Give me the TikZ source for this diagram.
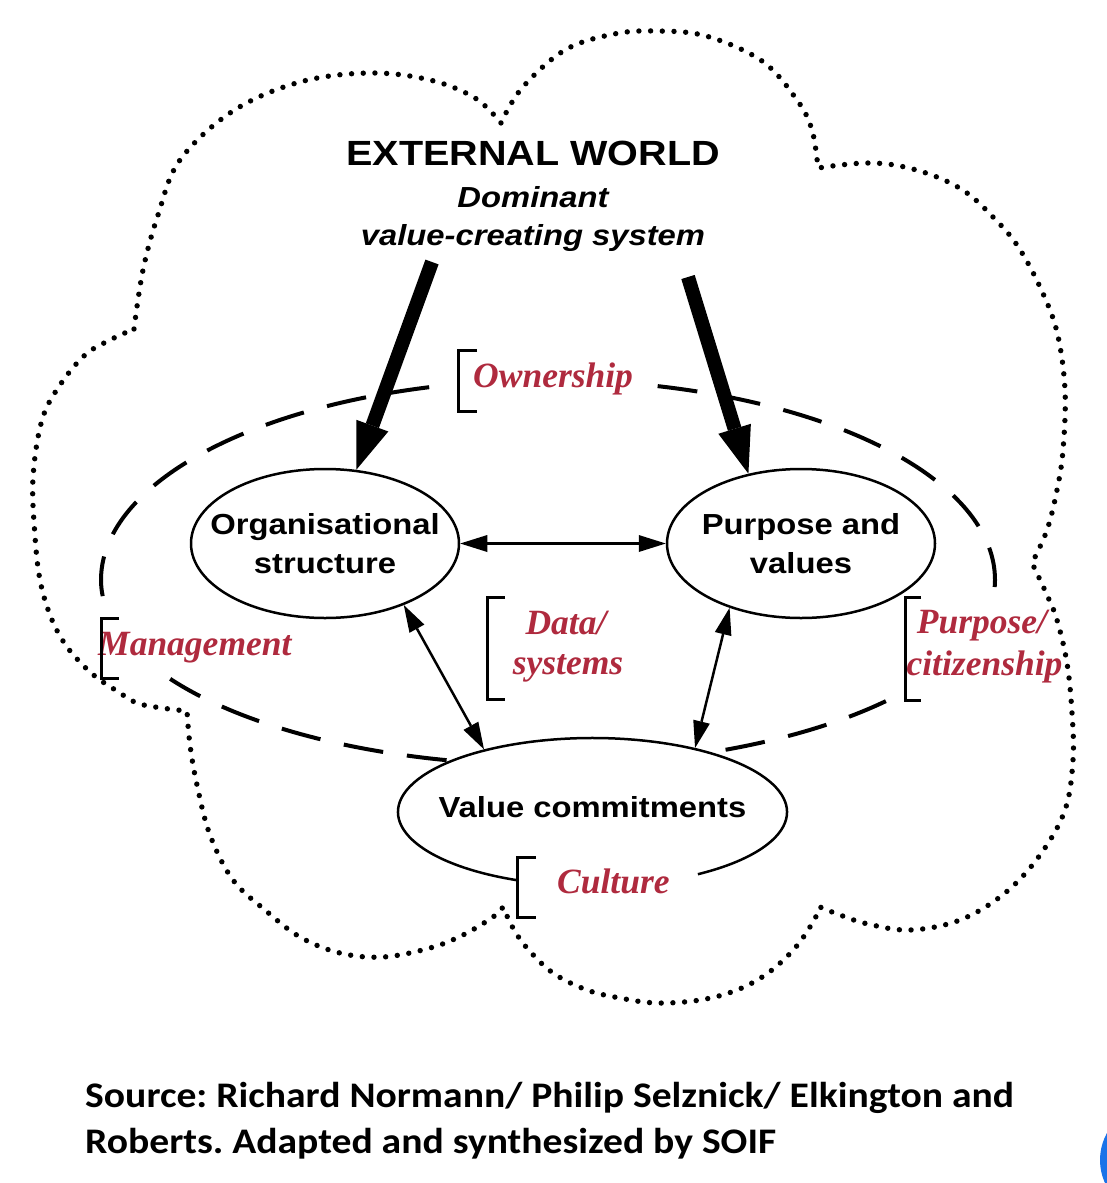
\documentclass[tikz,border=0pt]{standalone}
\usepackage{fontspec}
\usetikzlibrary{arrows.meta,shapes.geometric,calc}
\newfontfamily\nodefont[FakeStretch=1.13]{Liberation Sans}
\newfontfamily\redfont{Liberation Serif}
\newfontfamily\srcfont[FakeStretch=1.1]{Carlito}
\definecolor{labred}{RGB}{175,42,62}
\definecolor{gblue}{RGB}{26,115,232}
\begin{document}
\frenchspacing
\begin{tikzpicture}[x=1pt,y=-1pt,
  cloud/.style={line width=5.4pt, line cap=round, dash pattern=on 0pt off 11.7pt},
  outer/.style={line width=4pt, dash pattern=on 40pt off 24pt},
  ell/.style={ellipse, draw, line width=2.5pt, fill=white, inner sep=0pt, minimum width=268pt, minimum height=149pt},
  txt/.style={font=\nodefont\bfseries\fontsize{29}{39}\selectfont, align=center, inner sep=0pt},
  ttl/.style={font=\nodefont\bfseries\fontsize{35}{42}\selectfont, inner sep=0pt, anchor=base},
  sub/.style={font=\nodefont\bfseries\itshape\fontsize{29}{38}\selectfont, inner sep=0pt, anchor=base},
  bigarrow/.style={line width=14pt, -{Triangle[length=47pt,width=34pt,line width=0pt]}},
  twoway/.style={line width=2.5pt, {Triangle[length=27pt,width=17pt,line width=0pt]}-{Triangle[length=27pt,width=17pt,line width=0pt]}},
  lab/.style={text=labred, font=\redfont\bfseries\itshape\fontsize{35.5}{40}\selectfont, inner sep=0pt, anchor=base},
  brk/.style={line width=3pt},
  src/.style={font=\srcfont\bfseries\fontsize{36}{46}\selectfont, inner sep=0pt, anchor=base west}
]
\useasboundingbox (0,0) rectangle (1107,1183);
\fill[white] (0,0) rectangle (1107,1183);
\begin{scope}
\clip (0,0) rectangle (1107,1183);
\fill[gblue] (1155.6,1160) circle[radius=55.6];
\end{scope}

% cloud
\draw[cloud]
  plot[smooth, tension=0.6] coordinates {(134,329) (143,270) (158,215) (180,160) (233,111) (300,82) (370,73) (430,80) (475,98) (501,123)}
  -- plot[smooth, tension=0.6] coordinates {(501,123) (522,88) (565,50) (614,34) (656,31) (706,36) (762,61) (797,100) (812,130) (818,168)}
  -- plot[smooth, tension=0.6] coordinates {(819,168) (832,166) (867,163) (900,166) (937,177) (967,193) (993,217) (1017,245) (1040,287) (1057,332) (1065,390) (1063,450) (1057,490) (1047,530) (1032,563)}
  -- plot[smooth, tension=0.6] coordinates {(1032,563) (1047,595) (1057,620) (1067,663) (1072,713) (1073,760) (1065,810) (1040,855) (1005,893) (960,920) (910,930) (868,924) (840,915) (820,907)}
  -- plot[smooth, tension=0.6] coordinates {(820,907) (813,922) (795,948) (768,973) (737,990) (700,1000) (657,1003) (620,998) (587,990) (553,973) (527,948) (513,928) (503,907)}
  -- plot[smooth, tension=0.6] coordinates {(503,907) (493,917) (463,935) (430,948) (383,957) (340,953) (300,937) (265,910) (233,880) (210,835) (197,785) (190,745) (187,711)}
  -- plot[smooth, tension=0.6] coordinates {(187,711) (162,708) (137,703) (117,691) (96,677) (78,660) (63,641) (50,615) (40,580) (35,536) (33,478) (42,420) (60,385) (85,355) (110,340) (134,329)};

% dashed organisation boundary
\coordinate (ec) at (548,580);
\draw[outer] (ec) ++(284.2:447 and 200) arc[start angle=284.2, end angle=360, x radius=447, y radius=200]
  arc[start angle=0, end angle=4.6, x radius=447, y radius=185];
\draw[outer] (ec) ++(40.9:447 and 185) arc[start angle=40.9, end angle=147.7, x radius=447, y radius=185];
\draw[outer] (ec) ++(175:447 and 185) arc[start angle=175, end angle=180, x radius=447, y radius=185]
  arc[start angle=180, end angle=255.8, x radius=447, y radius=200];

% nodes
\node[ell] (org) at (325,543.5) {};
\node[ell] (pur) at (801,543.5) {};
\node[ell, draw=none, minimum width=389pt, minimum height=148pt] (vc) at (592.5,812) {};
\draw[line width=2.5pt] (vc.center) ++(112.8:194.5 and 74) arc[start angle=112.8, end angle=417.2, x radius=194.5, y radius=74];
\node[txt] (orgt) at (325,543.5) {Organisational\\structure};
\node[txt] (purt) at (801,543.5) {Purpose and\\values};
\node[txt, anchor=base] (vct) at (592.5,817) {Value commitments};

% title
\node[ttl] (ext) at (533,165) {EXTERNAL WORLD};
\node[sub] (dom) at (533,207) {Dominant};
\node[sub] (vcs) at (533,245) {value-creating system};

% arrows
\coordinate (s1) at (432,262);
\coordinate (s2) at (688,277);
\draw[bigarrow] (s1) -- (org.67);
\draw[bigarrow] (s2) -- (pur.127.5);
\draw[twoway, line width=3pt] (org) -- (pur);
\draw[twoway] (org.-38) -- (vc.150);
\draw[twoway] (pur.-138) -- (vc.32);

% labels
\node[lab, anchor=base west] (own) at (473,387) {Ownership};
\draw[brk] (477,350) -- (458,350) -- (458,411) -- (477,411);
\node[lab] (data1) at (566,634) {Data/};
\node[lab] (data2) at (568,674) {systems};
\draw[brk] (505,597) -- (487,597) -- (487,699) -- (505,699);
\node[lab, anchor=base west] (mgmt) at (98,655) {Management};
\draw[brk] (119,618) -- (101,618) -- (101,678) -- (119,678);
\node[lab] (pc1) at (982,633) {Purpose/};
\node[lab] (pc2) at (984.5,675) {citizenship};
\draw[brk] (921,597) -- (905,597) -- (905,700) -- (921,700);
\node[lab, anchor=base west] (cult) at (557,893) {Culture};
\draw[brk] (536,857) -- (517,857) -- (517,917) -- (536,917);

% source
\node[src] (src1) at (85,1107) {Source: Richard Normann/ Philip Selznick/ Elkington and};
\node[src] (src2) at (85,1153) {Roberts. Adapted and synthesized by SOIF};
\end{tikzpicture}
\end{document}
